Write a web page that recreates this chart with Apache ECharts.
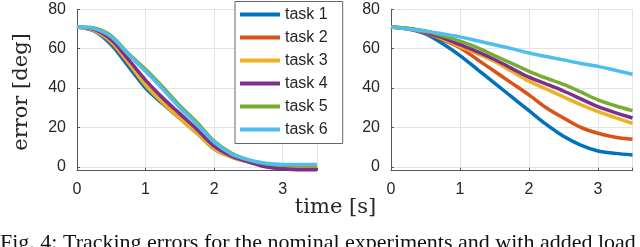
<!DOCTYPE html>
<html>
<head>
<meta charset="utf-8">
<script src="https://cdn.jsdelivr.net/npm/echarts@6/dist/echarts.min.js"></script>
<style>
html,body{margin:0;padding:0;background:#fff;}
#c{width:640px;height:247px;}
</style>
</head>
<body>
<div id="c"></div>
<script>
// time samples [s]
const times = [0, 0.25, 0.5, 0.75, 1, 1.25, 1.5, 1.75, 2, 2.25, 2.5, 2.75, 3, 3.25, 3.5];
const taskNames = ['task 1', 'task 2', 'task 3', 'task 4', 'task 5', 'task 6'];
const colors = ['#0072BD', '#D95319', '#EDB120', '#7E2F8E', '#77AC30', '#4DBEEE'];
const yTicks = [0, 20, 40, 60, 80];
const xTicks = [0, 1, 2, 3];

// left panel: error [deg]
const left1 = [71, 69, 62, 51, 40, 32, 24.5, 17, 9, 5, 2.5, 1, 0.5, 0.5, 0.5];
const left2 = [71, 69.3, 63, 52.5, 41.5, 33, 25, 17.5, 9.5, 5, 2.5, 1, 0.3, 0.2, 0.2];
const left3 = [71, 69.3, 63.5, 53, 41.5, 32.5, 24.5, 17, 9, 5, 2.5, 1, 0.5, 0.5, 0.5];
const left4 = [71, 69.8, 64.5, 54.5, 44, 35, 27, 19, 10.5, 5.5, 2.5, 0, -1, -1.5, -1.5];
const left5 = [71, 70.5, 66.5, 57.5, 49.5, 40.5, 31, 22.5, 13, 7, 3.5, 1.5, 0.8, 0.8, 0.8];
const left6 = [71, 70.2, 66, 57, 48.5, 39.5, 30, 21.5, 12.5, 6.5, 3.5, 1.8, 1.2, 1.2, 1.2];

// right panel: error [deg]
const right1 = [71, 70, 67.5, 62.5, 56.5, 49.5, 42.5, 35.5, 28.5, 21.5, 15.5, 11, 8, 6.8, 6];
const right2 = [71, 70, 68, 64.5, 60.5, 54.5, 48.5, 42.5, 36.5, 30, 24.8, 20, 17, 15, 14];
const right3 = [71, 70.2, 68.5, 65, 61, 57.5, 53.5, 48.5, 43.5, 39.5, 35.5, 31.5, 28, 25, 22];
const right4 = [71, 70.2, 68.5, 65.5, 62, 58.5, 54.5, 50, 45.5, 42, 38.5, 34.5, 30.5, 27.5, 24.8];
const right5 = [71, 70.3, 69, 66.5, 63.8, 60.5, 56.5, 52.5, 48.5, 45, 41.8, 38, 34, 31, 28.5];
const right6 = [71, 70, 68.8, 67.5, 66, 64, 62, 60, 57.8, 56, 54.3, 52.5, 51, 49, 47];

const leftData = [left1, left2, left3, left4, left5, left6];
const rightData = [right1, right2, right3, right4, right5, right6];

const chart = echarts.init(document.getElementById('c'), null, {renderer: 'canvas'});

const axisCol = '#555555';
const txtCol = '#262626';
const sans = 'Liberation Sans, Arial, sans-serif';
const serif = 'DejaVu Serif, serif';

function xAxisCfg(gi) {
  return {
    type: 'value', gridIndex: gi, min: 0, max: 3.5, interval: 1,
    axisLine: {show: true, onZero: false, lineStyle: {color: axisCol, width: 1}},
    axisTick: {show: true, inside: true, length: 3, lineStyle: {color: axisCol}},
    axisLabel: {color: txtCol, fontSize: 16, fontFamily: sans, margin: 11,
      customValues: xTicks, formatter: v => String(v)},
    splitLine: {show: true, lineStyle: {color: '#e3e3e3', width: 1}}
  };
}
function yAxisCfg(gi) {
  return {
    type: 'value', gridIndex: gi, min: -2, max: 80,
    axisLine: {show: true, onZero: false, lineStyle: {color: axisCol, width: 1}},
    axisTick: {show: true, inside: true, length: 3, lineStyle: {color: axisCol}, customValues: yTicks},
    axisLabel: {color: txtCol, fontSize: 16, fontFamily: sans, margin: 11, customValues: yTicks},
    splitLine: {show: true, lineStyle: {color: '#e3e3e3', width: 1}}
  };
}

const series = [];
leftData.forEach((arr, i) => {
  series.push({
    name: taskNames[i], type: 'line', xAxisIndex: 0, yAxisIndex: 0,
    data: times.map((t, k) => [t, arr[k]]),
    smooth: 0.3, showSymbol: false, symbol: 'none',
    lineStyle: {color: colors[i], width: 3.5}, itemStyle: {color: colors[i]},
    clip: false, z: 2
  });
});
rightData.forEach((arr, i) => {
  series.push({
    name: taskNames[i], type: 'line', xAxisIndex: 1, yAxisIndex: 1,
    data: times.map((t, k) => [t, arr[k]]),
    smooth: 0.3, showSymbol: false, symbol: 'none',
    lineStyle: {color: colors[i], width: 3.5}, itemStyle: {color: colors[i]},
    clip: false, z: 2
  });
});

chart.setOption({
  animation: false,
  backgroundColor: '#fff',
  color: colors,
  grid: [
    {left: 77, top: 9.3, width: 240, height: 161.4},
    {left: 391, top: 9.3, width: 241.5, height: 161.4}
  ],
  xAxis: [xAxisCfg(0), xAxisCfg(1)],
  yAxis: [yAxisCfg(0), yAxisCfg(1)],
  legend: {
    data: taskNames,
    orient: 'vertical',
    left: 235, top: 1.5,
    padding: [5, 15, 6, 5],
    itemGap: 7,
    itemWidth: 40, itemHeight: 4,
    icon: 'rect',
    backgroundColor: '#fff',
    borderColor: '#666', borderWidth: 1, borderRadius: 0,
    textStyle: {color: txtCol, fontSize: 16, fontFamily: sans, lineHeight: 16},
    z: 10
  },
  graphic: [
    {type: 'text', x: 22, y: 92, rotation: Math.PI / 2,
      style: {text: 'error [deg]', fontSize: 21, fontFamily: serif, fill: txtCol,
        align: 'center', verticalAlign: 'middle'}},
    {type: 'text', x: 335.5, y: 208,
      style: {text: 'time [s]', fontSize: 21, fontFamily: serif, fill: txtCol,
        align: 'center', verticalAlign: 'middle'}},
    {type: 'text', x: 0, y: 232,
      style: {text: 'Fig. 4: Tracking errors for the nominal experiments and with added load',
        fontSize: 22, fontFamily: 'Liberation Serif, serif', fill: '#111',
        align: 'left', verticalAlign: 'top'}}
  ],
  series: series
});
</script>
</body>
</html>
